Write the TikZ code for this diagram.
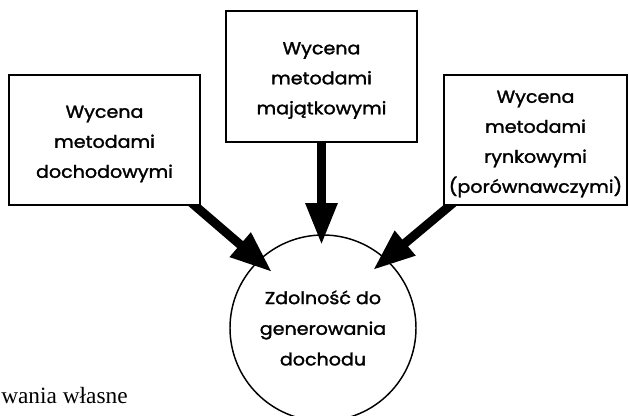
\documentclass[tikz,border=0pt]{standalone}
\usepackage{fontspec}
\setmainfont{Poppins}[FakeStretch=1.1, FakeBold=1.6]
\newfontfamily\notefont{Liberation Serif}
\usetikzlibrary{arrows.meta,calc,backgrounds}

\tikzset{
  method/.style={draw, line width=1.5pt, fill=white, rectangle, inner sep=0pt, outer sep=0pt},
  methodtext/.style={inner sep=0pt, align=center, font=\fontsize{13pt}{22.5pt}\selectfont},
  goal/.style={draw, line width=1.1pt, circle, inner sep=0pt, outer sep=0pt,
    minimum size=139.5pt, align=center, font=\fontsize{13pt}{23pt}\selectfont},
  bigarrow/.style={line width=6.75pt, -{Triangle[length=31.5pt,width=22.5pt]}},
}

\begin{document}
\begin{tikzpicture}[x=0.75pt,y=-0.75pt]
  \useasboundingbox (0,0) rectangle (629,415);

  % valuation approaches
  \node[method, minimum width=143.25pt, minimum height=97.5pt] (lb) at (104.5,140) {};
  \node[method, minimum width=143.25pt, minimum height=98.25pt] (mb) at (321.5,76.5) {};
  \node[method, minimum width=137.25pt, minimum height=97.5pt] (rb) at (535.5,140) {};
  \node[methodtext] (lbt) at ($(lb)+(0,4)$) {Wycena\\metodami\\dochodowymi};
  \node[methodtext] (mbt) at ($(mb)+(0,4)$) {Wycena\\metodami\\majątkowymi};
  \node[methodtext] (rbt) at ($(rb)+(0,4)$) {Wycena\\metodami\\rynkowymi\\(porównawczymi)};

  % common goal
  \node[goal] (c) at (323,328) {Zdolność do\\generowania\\dochodu};

  % arrow ends
  \coordinate (ls) at ($(lb.south east)+(-14,-7)$);
  \coordinate (ms) at ($(mb.south)+(0,-8)$);
  \coordinate (rs) at ($(rb.south west)+(15,-7)$);
  \coordinate (lt) at ($(c)+(-51,-56)$);
  \coordinate (mt) at ($(c)+(-1.5,-83)$);
  \coordinate (rt) at ($(c)+(50,-58)$);

  \begin{pgfonlayer}{background}
    \draw[bigarrow] (ls) -- (lt);
    \draw[bigarrow] (ms) -- (mt);
    \draw[bigarrow] (rs) -- (rt);
  \end{pgfonlayer}

  % source note
  \node[anchor=base west, inner sep=0pt, font=\notefont\fontsize{17.5pt}{19pt}\selectfont]
    (note) at (1,403) {wania własne};
\end{tikzpicture}
\end{document}
